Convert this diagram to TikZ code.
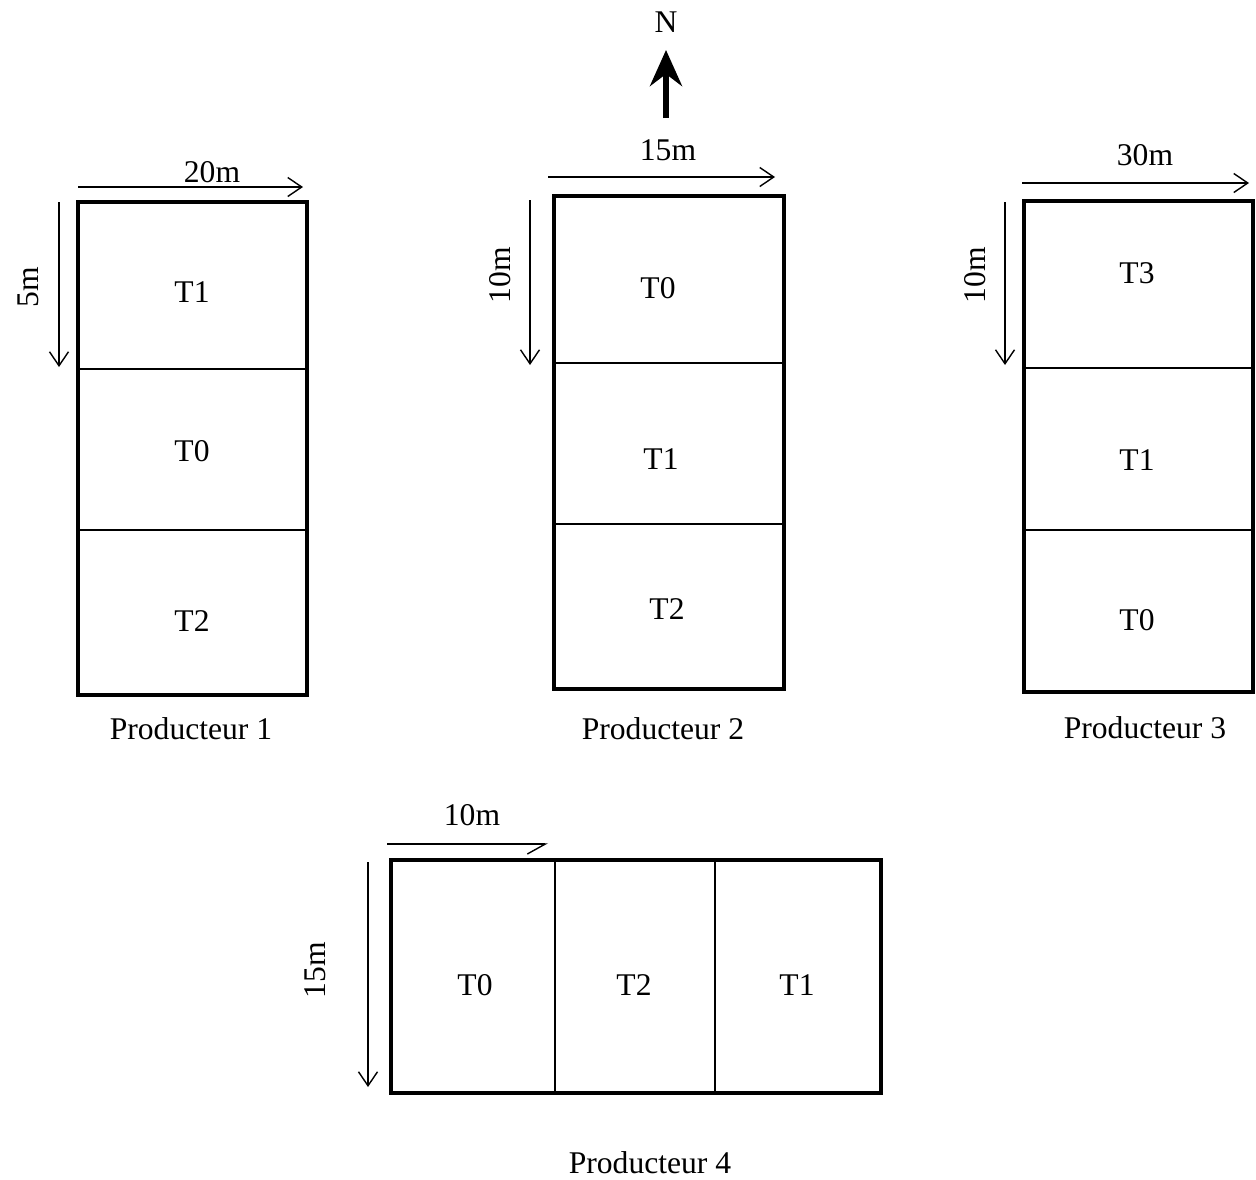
\documentclass[tikz,border=0pt]{standalone}
\usepackage{fontspec}
\setmainfont{Liberation Serif}
\usetikzlibrary{arrows.meta}
\begin{document}
\begin{tikzpicture}[x=0.5pt,y=-0.5pt,
  plot/.style={line width=2pt},
  divider/.style={line width=0.7pt},
  dim/.style={line width=0.7pt,-{Straight Barb[length=7pt,width=9.5pt,line width=0.7pt]}},
  lbl/.style={font=\fontsize{15.8}{18}\selectfont,inner sep=0pt},
  rlbl/.style={lbl,rotate=90}]
\useasboundingbox (0,0) rectangle (1256,1179);

% north arrow
\coordinate (nfoot) at (666,118);
\coordinate (ntip) at (666,50);
\draw[line width=3pt,-{Stealth[length=18pt,width=16pt,inset=6pt]}] (nfoot) -- (ntip);
\node[lbl] (north) at (666,22) {N};

% Producteur 1
\draw[plot] (78,202) rectangle (307,695);
\draw[divider] (78,369) -- (307,369);
\draw[divider] (78,530) -- (307,530);
\coordinate (a1s) at (78,187); \coordinate (a1e) at (303,187);
\coordinate (b1s) at (59,202); \coordinate (b1e) at (59,367);
\draw[dim] (a1s) -- (a1e);
\draw[dim] (b1s) -- (b1e);
\node[lbl] (w1) at (212,172) {20m};
\node[rlbl] (h1) at (28,287) {5m};
\node[lbl] (c11) at (192,292) {T1};
\node[lbl] (c12) at (192,451) {T0};
\node[lbl] (c13) at (192,621) {T2};
\node[lbl] (p1) at (191,729) {Producteur 1};

% Producteur 2
\draw[plot] (554,196) rectangle (784,689);
\draw[divider] (554,363) -- (784,363);
\draw[divider] (554,524) -- (784,524);
\coordinate (a2s) at (548,177); \coordinate (a2e) at (775,177);
\coordinate (b2s) at (530,200); \coordinate (b2e) at (530,365);
\draw[dim] (a2s) -- (a2e);
\draw[dim] (b2s) -- (b2e);
\node[lbl] (w2) at (668,150) {15m};
\node[rlbl] (h2) at (500,275) {10m};
\node[lbl] (c21) at (658,288) {T0};
\node[lbl] (c22) at (661,459) {T1};
\node[lbl] (c23) at (667,609) {T2};
\node[lbl] (p2) at (663,729) {Producteur 2};

% Producteur 3
\draw[plot] (1024,201) rectangle (1253,692);
\draw[divider] (1024,368) -- (1253,368);
\draw[divider] (1024,530) -- (1253,530);
\coordinate (a3s) at (1022,183); \coordinate (a3e) at (1249,183);
\coordinate (b3s) at (1005,202); \coordinate (b3e) at (1005,365);
\draw[dim] (a3s) -- (a3e);
\draw[dim] (b3s) -- (b3e);
\node[lbl] (w3) at (1145,155) {30m};
\node[rlbl] (h3) at (975,275) {10m};
\node[lbl] (c31) at (1137,273) {T3};
\node[lbl] (c32) at (1137,460) {T1};
\node[lbl] (c33) at (1137,620) {T0};
\node[lbl] (p3) at (1145,728) {Producteur 3};

% Producteur 4
\draw[plot] (391,860) rectangle (881,1093);
\draw[divider] (555,860) -- (555,1093);
\draw[divider] (715,860) -- (715,1093);
\coordinate (a4s) at (387,844); \coordinate (a4e) at (548,844);
\coordinate (b4s) at (368,862); \coordinate (b4e) at (368,1087);
\draw[line width=0.7pt,-{Straight Barb[right,length=9pt,width=10pt,line width=0.7pt]}] (a4s) -- (a4e);
\draw[dim] (b4s) -- (b4e);
\node[lbl] (w4) at (472,815) {10m};
\node[rlbl] (h4) at (315,970) {15m};
\node[lbl] (c41) at (475,985) {T0};
\node[lbl] (c42) at (634,985) {T2};
\node[lbl] (c43) at (797,985) {T1};
\node[lbl] (p4) at (650,1163) {Producteur 4};
\end{tikzpicture}
\end{document}
